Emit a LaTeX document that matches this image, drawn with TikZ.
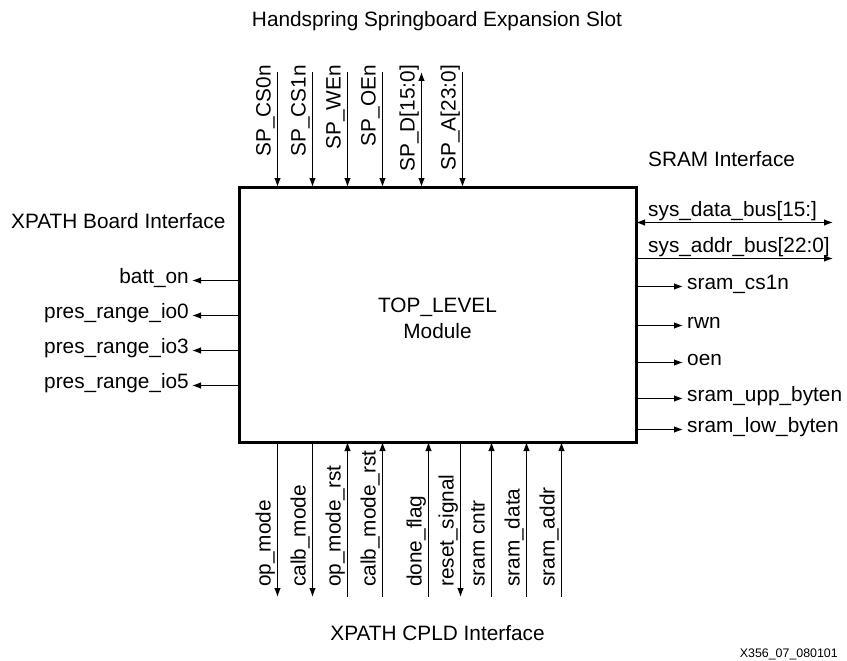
\documentclass[tikz,border=0pt]{standalone}
\usepackage{fontspec}
\setmainfont{Liberation Sans}
\usetikzlibrary{arrows.meta,positioning,calc}
\tikzset{sig/.style={-{Latex[length=9pt,width=6.5pt]},line width=1.1pt},
  rsig/.style={{Latex[length=9pt,width=6.5pt]}-,line width=1.1pt},
  bisig/.style={{Latex[length=9pt,width=6.5pt]}-{Latex[length=9pt,width=6.5pt]},line width=1.1pt},
  lab/.style={font=\fontsize{20.8}{26}\selectfont,inner sep=0pt},
  vlab/.style={lab,rotate=90},
  modbox/.style={draw,line width=3pt,minimum width=397pt,minimum height=255pt,outer sep=0pt}}

\begin{document}
\begin{tikzpicture}[x=1pt,y=-1pt]
\useasboundingbox (0,0) rectangle (847,661);
\node[modbox] (toplevel) at (437.5,314.5) {};
\node[lab,align=center] (modlab) at (437.5,318) {TOP\_LEVEL\\Module};
% headings
\node[lab,anchor=base] (slot) at (437,27) {Handspring Springboard Expansion Slot};
\node[lab,anchor=base west] (board) at (11,228) {XPATH Board Interface};
\node[lab,anchor=base west] (sram) at (648,166.7) {SRAM Interface};
\node[lab,anchor=base] (cpld) at (437.5,640) {XPATH CPLD Interface};
\node[font=\fontsize{12.4}{15}\selectfont,inner sep=0pt,anchor=base east] (fig) at (838,657) {X356\_07\_080101};
% springboard side
\foreach \x/\name/\lab/\sty in {277.5/cszero/SP\_CS0n/sig,312.5/csone/SP\_CS1n/sig,347.5/wen/SP\_WEn/sig,382.5/oen/SP\_OEn/sig,421.5/spd/SP\_D[15:0]/bisig,462.5/spa/SP\_A[23:0]/sig}{
\coordinate (\name) at (\x,72);
\draw[\sty] (\name) -- (\name |- toplevel.north);
\node[vlab,anchor=base east] (\name-lab) at ([xshift=-7pt,yshift=7pt]\name) {\lab};
}
% cpld side
\foreach \x/\name/\lab/\sty in {277.5/opm/op\_mode/sig,312.5/calm/calb\_mode/sig,347.5/opmr/op\_mode\_rst/rsig,382.5/calmr/calb\_mode\_rst/rsig,428.5/done/done\_flag/rsig,460.5/rst/reset\_signal/sig,491.5/cntr/sram cntr/rsig,526.5/sdata/sram\_data/rsig,561.5/saddr/sram\_addr/rsig}{
\coordinate (\name) at (\x,597);
\draw[\sty] (\name |- toplevel.south) -- (\name);
\node[vlab,anchor=base west] (\name-lab) at ([xshift=-7pt,yshift=10pt]\name) {\lab};
}
% board side
\foreach \y/\name/\lab in {280.5/batt/batt\_on,315.5/przero/pres\_range\_io0,350.5/prthree/pres\_range\_io3,385.5/prfive/pres\_range\_io5}{
\coordinate (\name) at (192,\y);
\draw[sig] (\name -| toplevel.west) -- (\name);
\node[lab,anchor=mid east] (\name-lab) at ([xshift=-3pt]\name) {\lab};
}
% sram side
\foreach \y/\name/\lab in {286.5/cs/sram\_cs1n,325.5/rwn/rwn,362.5/oenr/oen,398.5/upp/sram\_upp\_byten,429.5/low/sram\_low\_byten}{
\coordinate (\name) at (683,\y);
\draw[sig] (\name -| toplevel.east) -- (\name);
\node[lab,anchor=mid west] (\name-lab) at ([xshift=4pt]\name) {\lab};
}
\coordinate (dbus) at (833,222.5);
\coordinate (abus) at (833,258.5);
\draw[bisig] (dbus -| toplevel.east) -- (dbus);
\draw[sig] (abus -| toplevel.east) -- (abus);
\node[lab,anchor=base west] (dbus-lab) at (648,216.5) {sys\_data\_bus[15:]};
\node[lab,anchor=base west] (abus-lab) at (648,252) {sys\_addr\_bus[22:0]};
\end{tikzpicture}
\end{document}
